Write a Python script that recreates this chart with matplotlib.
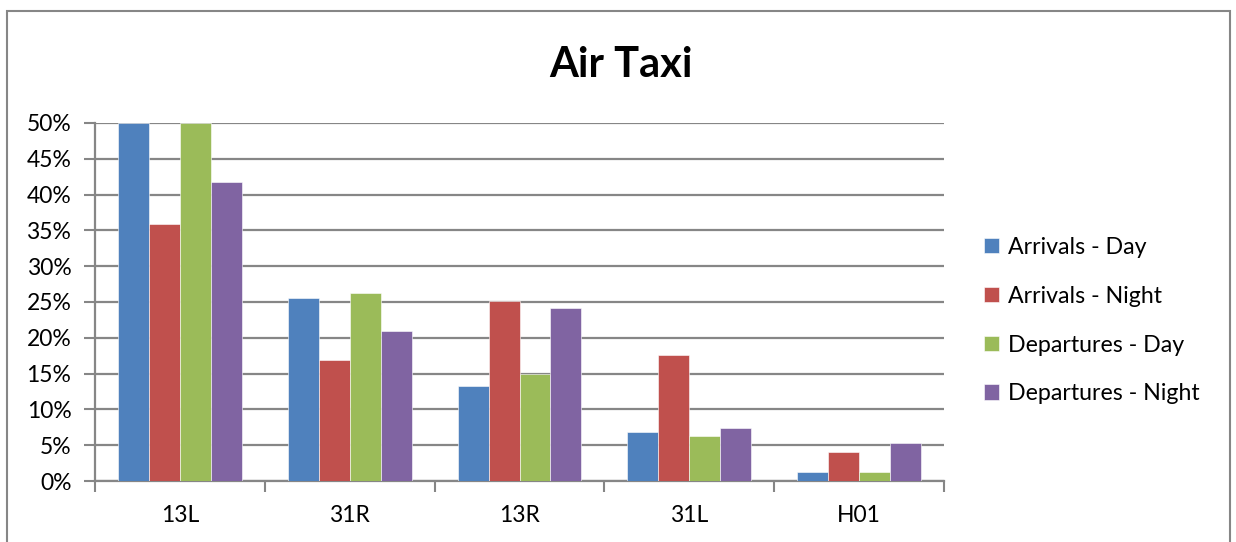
import matplotlib.pyplot as plt
import numpy as np
from matplotlib.patches import Rectangle
from matplotlib.ticker import FixedLocator, PercentFormatter

# data (percent)
runways = ['13L', '31R', '13R', '31L', 'H01']
series = ['Arrivals - Day', 'Arrivals - Night', 'Departures - Day', 'Departures - Night']
arr_day = [50.0, 25.5, 13.3, 6.8, 1.3]
arr_night = [35.9, 16.9, 25.1, 17.6, 4.1]
dep_day = [50.0, 26.2, 15.0, 6.3, 1.2]
dep_night = [41.7, 21.0, 24.1, 7.4, 5.3]
colors = ['#4F81BD', '#C0504D', '#9BBB59', '#8064A2']

plt.rcParams['font.family'] = ['Lato', 'DejaVu Sans']

W, H = 1236, 542
fig = plt.figure(figsize=(W / 100, H / 100), dpi=100)
fig.patch.set_facecolor('white')
# outer chart border
fig.add_artist(Rectangle((7 / W, -0.02), (1230 - 7) / W, (H - 11) / H + 0.02,
                         transform=fig.transFigure, fill=False,
                         edgecolor='#868686', linewidth=1.5))

ax = fig.add_axes([95 / W, (H - 481) / H, (944 - 95) / W, (481 - 123) / H])

x = np.arange(len(runways))
bw = 0.182
data = [arr_day, arr_night, dep_day, dep_night]
for i, (vals, name, c) in enumerate(zip(data, series, colors)):
    ax.bar(x + (i - 1.5) * bw, vals, bw, color=c, label=name,
           edgecolor='white', linewidth=0.4, zorder=3)

ax.set_xlim(-0.5, len(runways) - 0.5)
ax.set_ylim(0, 50)
ax.set_yticks(np.arange(0, 51, 5))
ax.yaxis.set_major_formatter(PercentFormatter(decimals=0))
ax.grid(axis='y', color='#868686', linewidth=1.6, zorder=0)

ax.xaxis.set_major_locator(FixedLocator(np.arange(-0.5, len(runways), 1.0)))
ax.xaxis.set_minor_locator(FixedLocator(x))
ax.set_xticklabels([])
ax.set_xticklabels(runways, minor=True)
ax.tick_params(axis='x', which='major', length=8, width=1.5, color='#868686')
ax.tick_params(axis='x', which='minor', length=0, pad=17, labelsize=16.5)
ax.tick_params(axis='y', length=8, width=1.5, color='#868686', labelsize=16.5, pad=9)

for s in ['top', 'right']:
    ax.spines[s].set_visible(False)
for s in ['left', 'bottom']:
    ax.spines[s].set_color('#868686')
    ax.spines[s].set_linewidth(1.6)

fig.text(621 / W, 1 - 65 / H, 'Air Taxi', fontsize=30, fontweight='bold',
         ha='center', va='center')

leg = ax.legend(loc='center left', bbox_to_anchor=(1.022, 0.448), frameon=False,
                fontsize=16.7, handlelength=0.65, handleheight=0.65,
                handletextpad=0.4, labelspacing=1.2)

fig.savefig('out.png', dpi=100)
